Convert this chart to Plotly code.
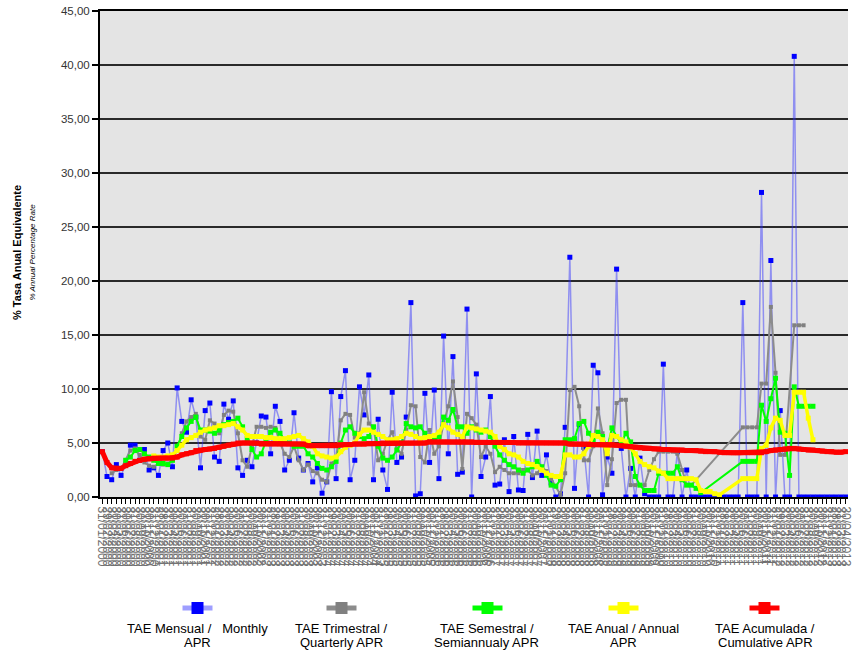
import pandas as pd
import plotly.graph_objects as go

# ---- data ----
dates = pd.date_range("2000-01-31", periods=160, freq="ME").strftime("%d/%m/%Y").tolist()

tae_mensual = [
    4.2, 1.9, 1.6, 3.0, 2.0, 3.0, 4.8, 4.8, 3.4, 4.4,
    2.5, 2.7, 2.0, 4.3, 5.0, 2.8, 10.1, 7.0, 6.0, 9.0,
    7.4, 2.7, 8.0, 8.7, 3.7, 3.3, 8.6, 7.2, 8.9, 2.7,
    2.0, 3.4, 2.8, 5.0, 7.5, 7.4, 4.0, 8.4, 7.0, 2.5,
    3.4, 7.8, 3.6, 2.5, 3.1, 1.4, 2.7, 0.35, 1.4, 9.75,
    1.7, 9.3, 11.7, 1.6, 3.4, 10.2, 7.6, 11.3, 1.6, 7.2,
    2.5, 0.7, 9.7, 3.2, 3.7, 7.4, 18.0, 0.1, 0.3, 9.6,
    3.2, 9.9, 1.7, 14.9, 4.0, 13.0, 2.1, 2.3, 17.4, 0.0,
    11.4, 1.9, 3.7, 9.3, 1.1, 1.2, 5.3, 0.5, 5.6, 0.65,
    0.6, 5.8, 1.8, 6.1, 2.0, 3.9, 1.3, 0.0, 0.3, 6.45,
    22.2, 0.8, 6.7, 4.6, 0.0, 12.2, 11.5, 0.2, 3.7, 2.2,
    21.1, 4.5, 0.0, 2.65, 0.0, 3.6, 0.3, 0.0, 0.0, 0.0,
    12.3, 0.0, 0.0, 4.2, 0.0, 2.5, 0.0, 0.0, 0.0, 0.0,
    0.0, 0.0, 0.0, 0.0, 0.0, 0.0, 0.0, 18.0, 0.0, 0.0,
    0.0, 28.2, 0.0, 21.9, 0.0, 8.0, 0.0, 0.0, 40.8, 0.0,
    0.0, 0.0, 0.0, 0.0, 0.0, 0.0, 0.0, 0.0, 0.0, 0.0,
]

tae_trimestral = [
    None, None, 2.2, 2.5, 2.6, 3.4, 4.3, 4.5, 3.9, 3.2,
    2.9, 2.8, 3.1, 3.0, 3.1, 3.4, 4.4, 5.9, 7.0, 7.4,
    7.7, 5.6, 5.3, 7.1, 6.8, 5.9, 7.6, 8.0, 7.9, 5.9,
    3.4, 2.8, 4.7, 6.5, 6.5, 6.4, 6.5, 6.4, 5.0, 4.0,
    3.7, 4.7, 3.4, 2.5, 3.0, 2.4, 2.2, 1.6, 1.4, 3.1,
    3.5, 7.1, 7.7, 7.6, 5.5, 5.9, 9.7, 6.8, 6.5, 3.4,
    4.0, 5.3, 6.0, 4.5, 4.0, 6.2, 8.5, 8.4, 3.7, 3.2,
    6.2, 4.0, 4.7, 6.8, 8.4, 10.7, 7.4, 2.6, 7.7, 7.3,
    6.7, 3.7, 4.7, 4.0, 2.3, 2.8, 2.5, 2.2, 2.2, 2.2,
    2.5, 2.5, 2.0, 2.2, 2.8, 2.4, 1.7, 1.0, 0.2, 2.2,
    9.9, 10.2, 8.4, 3.4, 3.4, 4.7, 8.2, 5.9, 1.1, 3.5,
    8.7, 9.0, 9.0, 1.1, 1.1, 1.1, 1.1, 2.5, 3.5, 4.2,
    4.2, 4.2, 4.2, 4.0, 2.5, 1.1, 1.1, None, None, None,
    None, None, None, None, None, None, None, 6.45, 6.45, 6.45,
    6.45, 10.5, 10.5, 17.6, 11.5, 3.9, 3.9, None, 15.9, 15.9,
    15.9, None, None, None, None, None, None, None, None, None,
]

tae_semestral = [
    None, None, None, None, None, 3.4, 3.7, 4.3, 4.4, 4.0,
    3.7, 3.4, 3.1, 3.1, 3.0, 3.4, 4.7, 5.6, 6.4, 7.0,
    7.4, 6.2, 6.2, 6.1, 5.9, 6.2, 6.7, 6.9, 7.0, 7.3,
    6.5, 5.4, 4.4, 3.7, 4.0, 5.2, 6.0, 6.2, 5.9, 5.3,
    5.0, 4.7, 4.7, 4.7, 4.0, 3.7, 3.1, 2.65, 2.5, 2.8,
    3.3, 5.0, 6.2, 6.5, 5.9, 5.6, 5.4, 5.6, 6.5, 4.7,
    3.6, 3.4, 3.7, 4.35, 5.0, 6.8, 6.5, 6.4, 6.5, 5.9,
    5.6, 5.3, 5.6, 7.4, 7.1, 8.1, 6.5, 6.5, 5.9, 6.5,
    6.2, 6.0, 6.2, 5.6, 4.7, 3.9, 3.4, 3.0, 2.8, 2.5,
    2.2, 2.5, 2.8, 3.3, 2.8, 2.0, 1.1, 1.0, 1.6, 5.3,
    5.3, 5.4, 6.8, 7.0, 5.9, 5.3, 6.0, 5.6, 4.5, 6.4,
    5.6, 5.0, 5.9, 5.1, 1.9, 1.1, 0.6, 0.6, 0.6, 2.2,
    2.2, 2.2, 2.2, 2.8, 1.6, 1.1, 1.1, 0.8, 0.4, None,
    None, None, None, None, None, None, None, 3.3, 3.3, 3.3,
    3.3, 8.5, 7.0, 9.1, 11.0, 6.0, 5.9, 2.0, 10.2, 8.4,
    8.4, 8.4, 8.4, None, None, None, None, None, None, None,
]

tae_anual = [
    None, None, None, None, None, None, None, None, None, None,
    None, 3.8, 3.7, 3.7, 3.8, 3.9, 4.3, 4.8, 5.3, 5.5,
    5.7, 6.0, 6.2, 6.3, 6.4, 6.6, 6.6, 6.7, 6.8, 6.5,
    6.2, 5.7, 5.6, 5.6, 5.6, 5.5, 5.5, 5.4, 5.4, 5.4,
    5.5, 5.6, 5.7, 5.4, 5.1, 4.7, 4.0, 3.8, 3.7, 3.6,
    3.7, 4.2, 4.6, 4.8, 5.0, 5.8, 6.2, 6.2, 6.0, 5.8,
    5.6, 5.3, 5.3, 5.4, 5.6, 5.9, 5.8, 5.6, 5.4, 5.5,
    5.6, 5.7, 6.0, 6.7, 6.4, 6.0, 5.8, 5.6, 6.5, 6.4,
    6.3, 6.2, 6.1, 6.0, 5.6, 4.7, 4.4, 4.0, 3.9, 3.7,
    3.3, 3.1, 3.0, 2.8, 2.5, 2.2, 2.0, 1.9, 1.9, 3.9,
    3.9, 3.7, 3.7, 4.0, 4.7, 5.7, 5.6, 5.3, 4.0, 5.7,
    5.6, 5.3, 5.1, 4.6, 4.0, 3.3, 3.0, 2.8, 2.7, 2.4,
    2.2, 1.7, 1.7, 1.7, 1.7, 1.7, 1.7, 1.6, 0.6, 0.5,
    0.5, 0.3, 0.2, None, None, None, None, 1.7, 1.7, 1.7,
    1.7, 4.5, 4.8, 6.4, 7.3, 7.1, 5.7, 5.7, 9.7, 9.7,
    9.7, 7.3, 5.3, None, None, None, None, None, None, None,
]

tae_acumulada = [
    4.2, 3.2, 2.7, 2.65, 2.65, 2.9, 3.1, 3.3, 3.4, 3.5,
    3.55, 3.6, 3.6, 3.6, 3.6, 3.6, 3.7, 3.9, 4.0, 4.1,
    4.3, 4.35, 4.4, 4.45, 4.5, 4.6, 4.7, 4.8, 4.9, 5.0,
    5.0, 5.0, 5.0, 5.0, 4.9, 4.9, 4.9, 4.9, 4.9, 4.9,
    4.9, 4.9, 4.9, 4.9, 4.75, 4.75, 4.75, 4.75, 4.75, 4.75,
    4.75, 4.8, 4.85, 4.85, 4.9, 4.9, 4.9, 4.95, 4.95, 4.95,
    5.0, 5.0, 5.0, 5.0, 5.0, 5.0, 5.0, 5.0, 5.0, 5.0,
    5.1, 5.1, 5.1, 5.1, 5.1, 5.1, 5.1, 5.1, 5.1, 5.1,
    5.05, 5.05, 5.05, 5.05, 5.05, 5.05, 5.05, 5.05, 5.05, 5.0,
    5.0, 5.0, 5.0, 5.0, 5.0, 5.0, 5.0, 5.0, 5.0, 5.0,
    4.9, 4.9, 4.9, 4.9, 4.9, 4.85, 4.85, 4.85, 4.85, 4.85,
    4.8, 4.75, 4.7, 4.65, 4.6, 4.55, 4.5, 4.5, 4.45, 4.45,
    4.4, 4.4, 4.35, 4.35, 4.35, 4.3, 4.3, 4.3, 4.25, 4.2,
    4.2, 4.2, 4.15, 4.1, 4.1, 4.1, 4.1, 4.1, 4.1, 4.1,
    4.1, 4.1, 4.2, 4.3, 4.35, 4.4, 4.45, 4.5, 4.5, 4.45,
    4.4, 4.35, 4.35, 4.3, 4.25, 4.2, 4.2, 4.15, 4.15, 4.2,
]

y_ticks = [0, 5, 10, 15, 20, 25, 30, 35, 40, 45]

series_line1 = [
    "TAE Mensual / &nbsp; Monthly",
    "TAE Trimestral /",
    "TAE Semestral /",
    "TAE Anual / Annual",
    "TAE Acumulada /",
]
series_line2 = ["APR", "Quarterly APR", "Semiannualy APR", "APR", "Cumulative APR"]

# ---- figure geometry (body margin removed by post_script) ----
W, H = 854, 651
ML, MR, MT = 100, 6, 11
MB = H - 497
PW, PH = W - ML - MR, H - MT - MB


def px_x(px):
    return (px - ML) / PW


def px_y(py):
    return (H - MB - py) / PH


styles = [
    dict(data=tae_mensual, line=dict(color="rgba(40,40,255,0.45)", width=1.5),
         marker=dict(color="#0000FF", size=5, symbol="square")),
    dict(data=tae_trimestral, line=dict(color="#8C8C8C", width=2),
         marker=dict(color="#808080", size=4, symbol="square")),
    dict(data=tae_semestral, line=dict(color="#00FF00", width=2),
         marker=dict(color="#00FF00", size=5, symbol="square")),
    dict(data=tae_anual, line=dict(color="#FFFF00", width=3.5),
         marker=dict(color="#FFFF00", size=5, symbol="square")),
    dict(data=tae_acumulada, line=dict(color="#FF0000", width=5),
         marker=dict(color="#FF0000", size=5, symbol="square")),
]

legend_sym_cx = [200, 344, 490, 626, 767]
legend_txt_cx = [197, 341, 487, 623, 765]
legend_keys = ["legend", "legend2", "legend3", "legend4", "legend5"]

fig = go.Figure()
for k, st in enumerate(styles):
    fig.add_trace(go.Scatter(
        x=dates, y=st["data"], mode="lines+markers",
        name="", line=st["line"], marker=st["marker"],
        connectgaps=True, showlegend=True, legend=legend_keys[k],
        hovertemplate=series_line1[k] + " " + series_line2[k] + ": %{y:.2f}<extra></extra>",
    ))

layout_legends = {}
for k, key in enumerate(legend_keys):
    layout_legends[key] = dict(
        x=px_x(legend_sym_cx[k]), y=px_y(608), xanchor="center", yanchor="middle",
        bgcolor="rgba(0,0,0,0)", itemsizing="constant", itemwidth=30,
        font=dict(size=2), tracegroupgap=0,
    )

annotations = []
legend_font = dict(family="Liberation Sans, Arial, sans-serif", size=13, color="#000000")
for k in range(5):
    annotations.append(dict(
        x=px_x(legend_txt_cx[k]), y=px_y(628), xref="paper", yref="paper",
        text=series_line1[k], showarrow=False, xanchor="center", yanchor="middle",
        font=legend_font,
    ))
    annotations.append(dict(
        x=px_x(legend_txt_cx[k]), y=px_y(642), xref="paper", yref="paper",
        text=series_line2[k], showarrow=False, xanchor="center", yanchor="middle",
        font=legend_font,
    ))

annotations.append(dict(
    x=px_x(24), y=px_y(253), xref="paper", yref="paper",
    text="<b>% Tasa Anual Equivalente</b><br><span style='font-size:8px'><i>% Annual Percentage Rate</i></span>",
    textangle=-90, showarrow=False, xanchor="center", yanchor="middle",
    font=dict(family="Liberation Sans, Arial, sans-serif", size=11, color="#000000"),
))

fig.update_layout(
    width=W, height=H,
    margin=dict(l=ML, r=MR, t=MT, b=MB, autoexpand=False),
    paper_bgcolor="#FFFFFF", plot_bgcolor="#E4E4E4",
    separators=",.",
    font=dict(family="Liberation Sans, Arial, sans-serif"),
    annotations=annotations,
    **layout_legends,
)

fig.update_xaxes(
    type="category", range=[-0.5, len(dates) - 0.5],
    tickmode="array", tickvals=dates, ticktext=dates, tickangle=90,
    tickfont=dict(size=12, color="#707070"),
    showgrid=False, showline=True, linecolor="#000000", linewidth=2,
    mirror=True,
    ticks="outside", ticklen=5, tickwidth=1, tickcolor="#000000",
    zeroline=False,
)
fig.update_yaxes(
    range=[0, 45], tickvals=y_ticks, tickformat=".2f",
    tickfont=dict(size=11.5, color="#333333"), ticklabeloverflow="allow",
    showgrid=True, gridcolor="#2A2A2A", gridwidth=1.5,
    showline=True, linecolor="#000000", linewidth=2,
    ticks="outside", ticklen=6, tickwidth=1.5, tickcolor="#000000",
    zeroline=False,
)

fig.write_html(
    "out.html",
    config={"displayModeBar": False},
    post_script="document.body.style.margin = '0px';",
)
